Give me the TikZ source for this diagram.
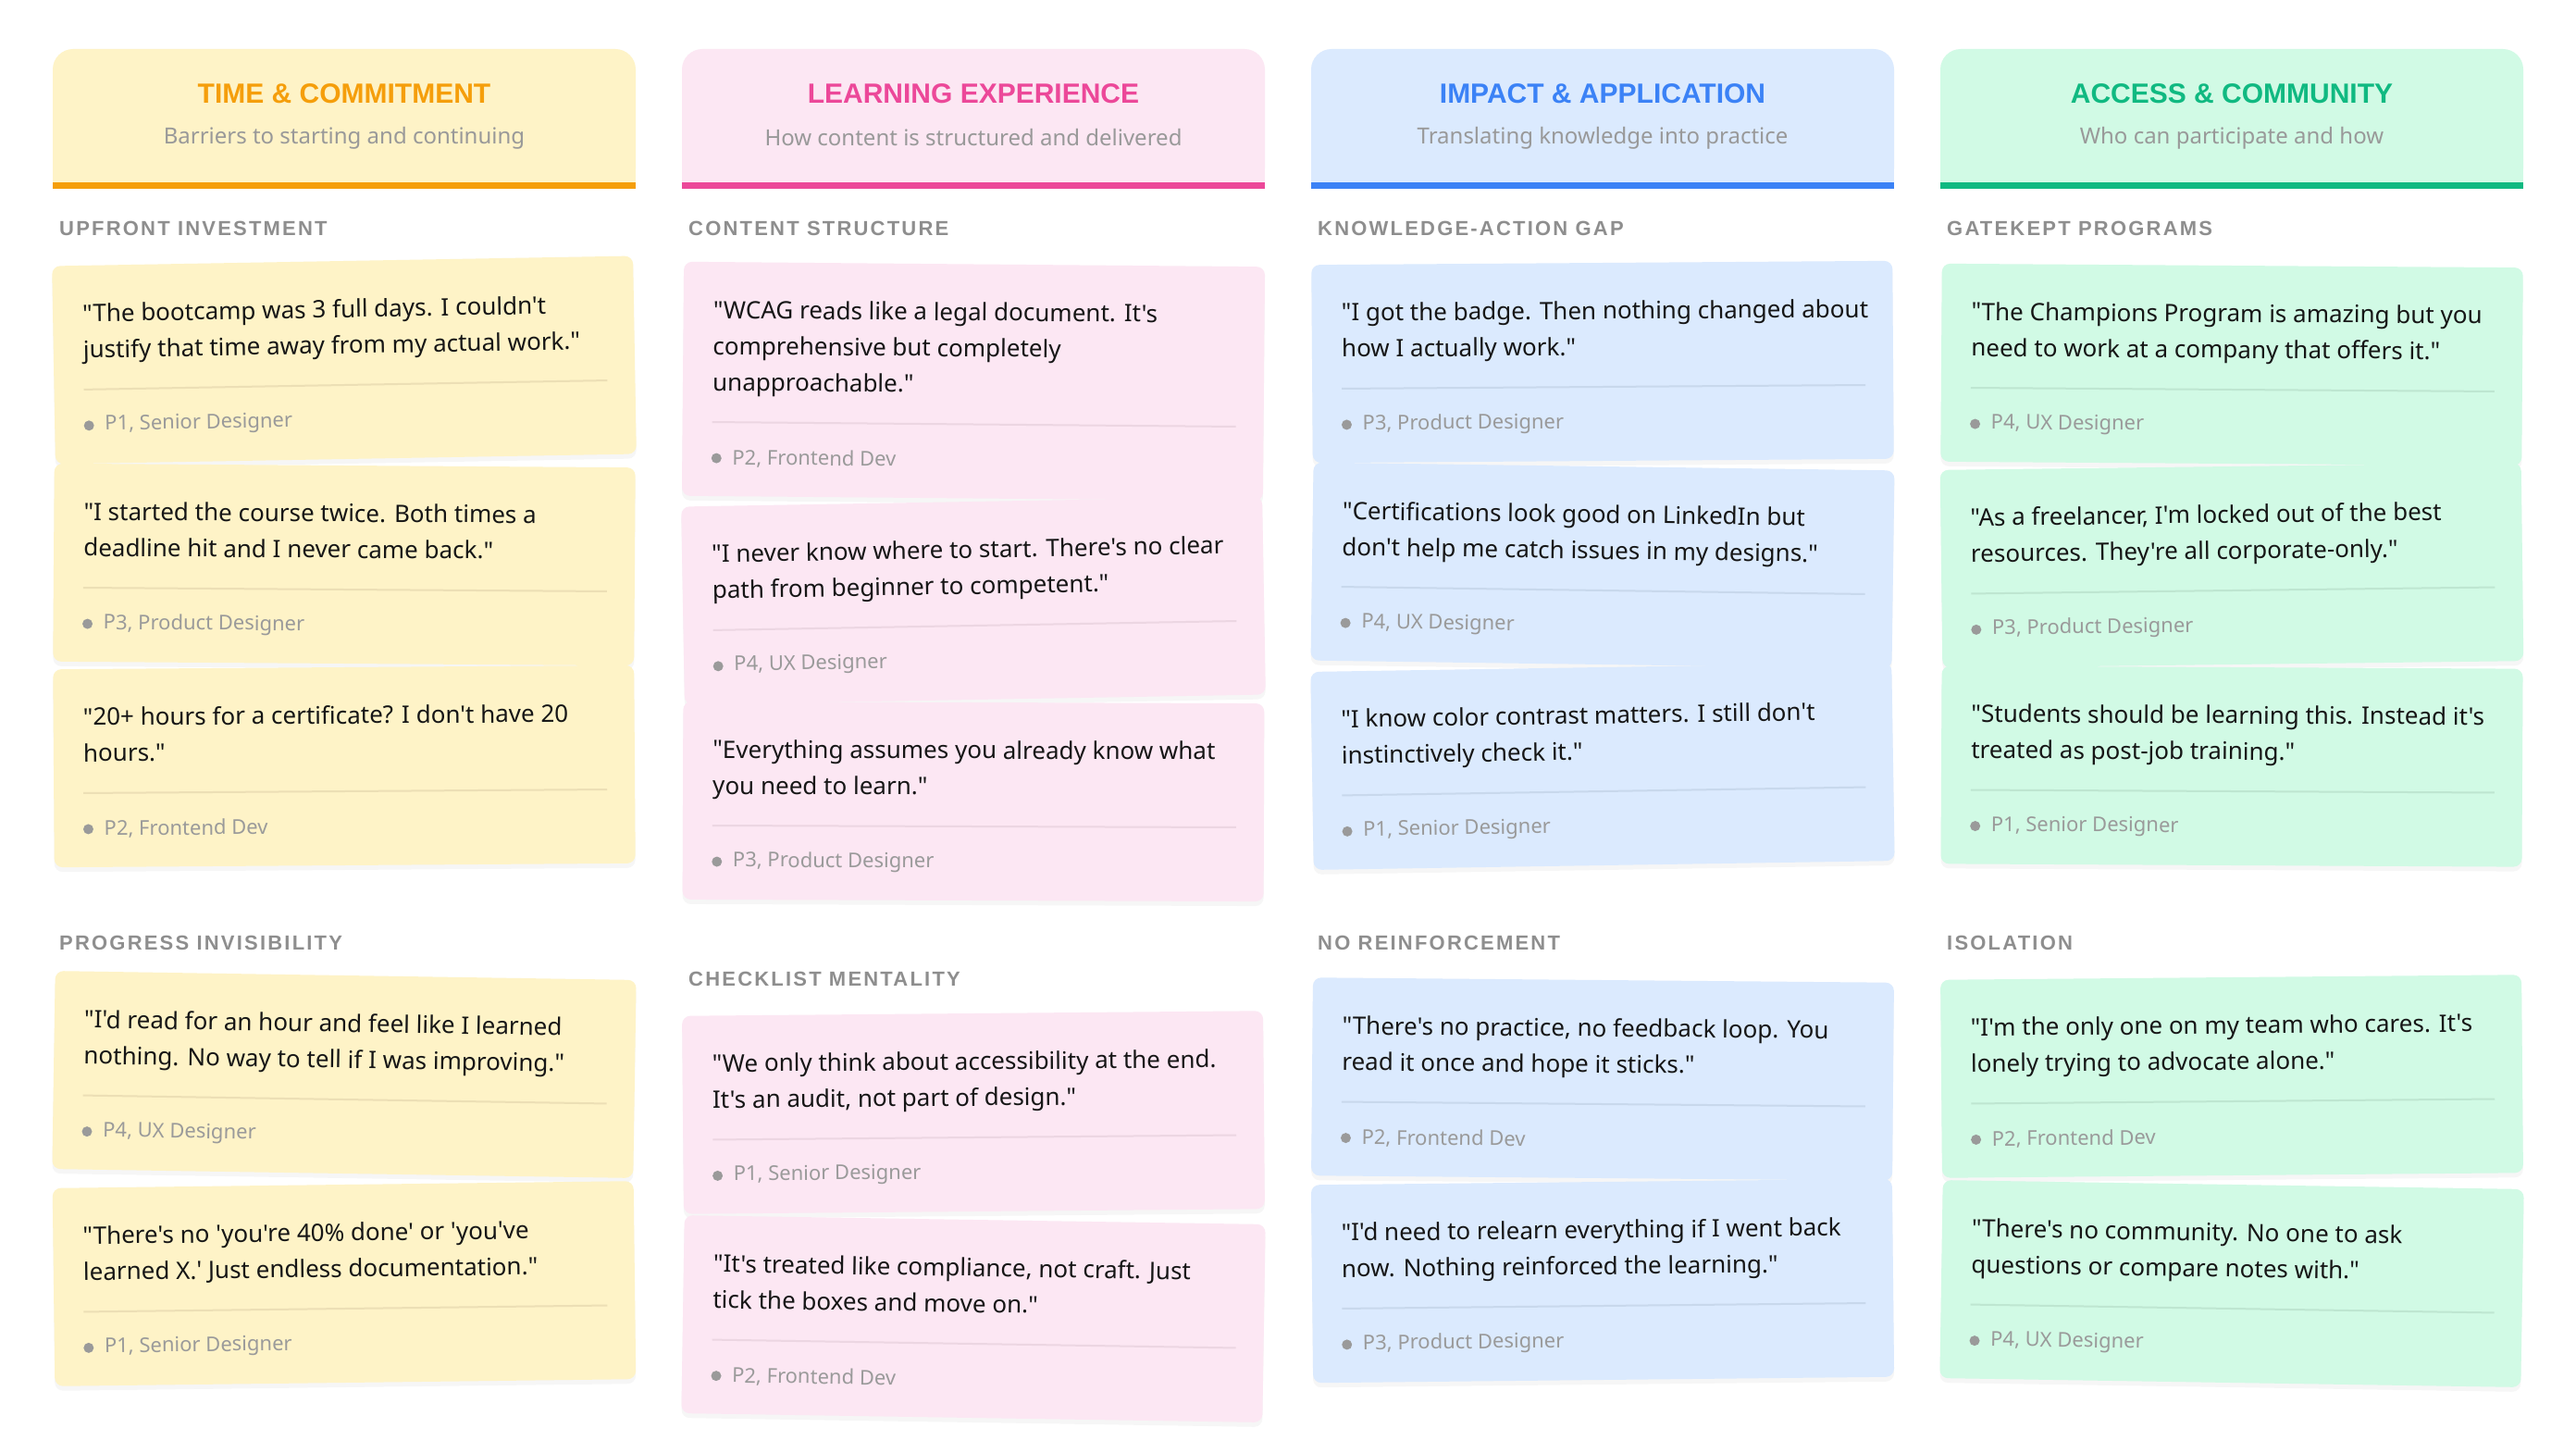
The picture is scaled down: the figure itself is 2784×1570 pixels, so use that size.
\documentclass[tikz,border=0pt]{standalone}
\usepackage{fontspec}
\setmainfont{Noto Sans}[Ligatures=TeXOff]
\newfontfamily\lblfont{Liberation Sans}[LetterSpace=10,Ligatures=TeXOff]
\newfontfamily\hdfont{Liberation Sans}[Ligatures=TeXOff]
\usetikzlibrary{shadows}
\definecolor{ylwbg}{HTML}{FEF3C7}\definecolor{ylwacc}{HTML}{F59E0B}\definecolor{ylwrule}{HTML}{ECDFB5}
\definecolor{pnkbg}{HTML}{FCE7F3}\definecolor{pnkacc}{HTML}{EC4899}\definecolor{pnkrule}{HTML}{ECD6E2}
\definecolor{blubg}{HTML}{DBEAFE}\definecolor{bluacc}{HTML}{3B82F6}\definecolor{blurule}{HTML}{C8D8EC}
\definecolor{grnbg}{HTML}{D1FAE5}\definecolor{grnacc}{HTML}{10B981}\definecolor{grnrule}{HTML}{BEE6D1}
\definecolor{quoteink}{HTML}{161616}
\definecolor{authorgray}{HTML}{9A9A9A}
\definecolor{dotgray}{HTML}{9A9A9A}
\definecolor{labelgray}{HTML}{8E8E8E}
\definecolor{subgray}{HTML}{999999}
\tikzset{
  quotetext/.style={font=\fontsize{26}{39}\selectfont, text=quoteink, align=left, inner sep=0pt},
  authortext/.style={font=\fontsize{22}{26}\selectfont, text=authorgray, inner sep=0pt},
  sectlabel/.style={font=\lblfont\bfseries\fontsize{22}{26}\selectfont, text=labelgray, inner sep=0pt, anchor=west},
  htitle/.style={font=\hdfont\bfseries\fontsize{30}{34}\selectfont, inner sep=0pt},
  hsub/.style={font=\fontsize{24}{28}\selectfont, text=subgray, inner sep=0pt},
  cardshadow/.style={drop shadow={opacity=0.07, shadow xshift=0pt, shadow yshift=-5pt}},
}
% #1 name, #2 cx, #3 cy, #4 angle, #5 colour prefix, #6 lines, #7 quote, #8 author
\newcommand\qcard[8]{%
  \begin{scope}[shift={(#2,#3)}, rotate=#4, transform shape]
    \pgfmathsetmacro\hh{(136+39*#6)/2}
    \pgfmathsetmacro\dy{-\hh+56+39*#6}
    \pgfmathsetmacro\ay{-\hh+95+39*#6}
    \path[fill=#5bg, rounded corners=9pt, cardshadow] (-314,-\hh) rectangle (314,\hh);
    \node[quotetext, anchor=north west] (#1q) at (-282,-\hh+41) {#7};
    \draw[#5rule, line width=2pt] (-282,\dy) -- (284,\dy);
    \fill[dotgray] (-277,\ay) circle (5.5pt);
    \node[authortext, anchor=west] (#1a) at (-260,\ay) {#8};
  \end{scope}}
% #1 name, #2 x0, #3 colour prefix, #4 title, #5 subtitle
\newcommand\colhead[5]{%
  \fill[#3bg, rounded corners=22pt] (#2,53) rectangle (#2+630,204);
  \fill[#3bg] (#2,150) rectangle (#2+630,204);
  \fill[#3acc] (#2,197) rectangle (#2+630,204);
  \node[htitle, text=#3acc] (#1t) at (#2+315,101) {#4};
  \node[hsub] (#1s) at (#2+315,149) {#5};}
\begin{document}
\begin{tikzpicture}[x=1pt,y=-1pt]
\fill[white] (0,0) rectangle (2784,1570);
\useasboundingbox (0,0) rectangle (2784,1570);

\colhead{h1}{57}{ylw}{TIME \& COMMITMENT}{Barriers to starting and continuing}
\colhead{h2}{737}{pnk}{LEARNING EXPERIENCE}{How content is structured and delivered}
\colhead{h3}{1417}{blu}{IMPACT \& APPLICATION}{Translating knowledge into practice}
\colhead{h4}{2097}{grn}{ACCESS \& COMMUNITY}{Who can participate and how}

\node[sectlabel] (s1a) at (64,247) {UPFRONT INVESTMENT};
\node[sectlabel] (s2a) at (744,247) {CONTENT STRUCTURE};
\node[sectlabel] (s3a) at (1424,247) {KNOWLEDGE-ACTION GAP};
\node[sectlabel] (s4a) at (2104,247) {GATEKEPT PROGRAMS};
\node[sectlabel] (s1b) at (64,1019) {PROGRESS INVISIBILITY};
\node[sectlabel] (s2b) at (744,1058) {CHECKLIST MENTALITY};
\node[sectlabel] (s3b) at (1424,1019) {NO REINFORCEMENT};
\node[sectlabel] (s4b) at (2104,1019) {ISOLATION};

% column 1
\qcard{c11}{372}{389}{1.0}{ylw}{2}{"The bootcamp was 3 full days. I couldn't\\justify that time away from my actual work."}{P1, Senior Designer}
\qcard{c12}{372}{610}{-0.4}{ylw}{2}{"I started the course twice. Both times a\\deadline hit and I never came back."}{P3, Product Designer}
\qcard{c13}{372}{828}{0.4}{ylw}{2}{"20+ hours for a certificate? I don't have 20\\hours."}{P2, Frontend Dev}
\qcard{c14}{372}{1161}{-0.9}{ylw}{2}{"I'd read for an hour and feel like I learned\\nothing. No way to tell if I was improving."}{P4, UX Designer}
\qcard{c15}{372}{1387}{0.7}{ylw}{2}{"There's no 'you're 40\% done' or 'you've\\learned X.' Just endless documentation."}{P1, Senior Designer}

% column 2
\qcard{c21}{1052}{412}{-0.5}{pnk}{3}{"WCAG reads like a legal document. It's\\comprehensive but completely\\unapproachable."}{P2, Frontend Dev}
\qcard{c22}{1052}{649}{1.0}{pnk}{2}{"I never know where to start. There's no clear\\path from beginner to competent."}{P4, UX Designer}
\qcard{c23}{1052}{866}{-0.2}{pnk}{2}{"Everything assumes you already know what\\you need to learn."}{P3, Product Designer}
\qcard{c24}{1052}{1202}{0.5}{pnk}{2}{"We only think about accessibility at the end.\\It's an audit, not part of design."}{P1, Senior Designer}
\qcard{c25}{1052}{1425}{-0.9}{pnk}{2}{"It's treated like compliance, not craft. Just\\tick the boxes and move on."}{P2, Frontend Dev}

% column 3
\qcard{c31}{1732}{391}{0.4}{blu}{2}{"I got the badge. Then nothing changed about\\how I actually work."}{P3, Product Designer}
\qcard{c32}{1732}{611}{-0.8}{blu}{2}{"Certifications look good on LinkedIn but\\don't help me catch issues in my designs."}{P4, UX Designer}
\qcard{c33}{1732}{828}{0.9}{blu}{2}{"I know color contrast matters. I still don't\\instinctively check it."}{P1, Senior Designer}
\qcard{c34}{1732}{1166}{-0.5}{blu}{2}{"There's no practice, no feedback loop. You\\read it once and hope it sticks."}{P2, Frontend Dev}
\qcard{c35}{1732}{1384}{0.6}{blu}{2}{"I'd need to relearn everything if I went back\\now. Nothing reinforced the learning."}{P3, Product Designer}

% column 4
\qcard{c41}{2412}{394}{-0.4}{grn}{2}{"The Champions Program is amazing but you\\need to work at a company that offers it."}{P4, UX Designer}
\qcard{c42}{2412}{611}{0.7}{grn}{2}{"As a freelancer, I'm locked out of the best\\resources. They're all corporate-only."}{P3, Product Designer}
\qcard{c43}{2412}{828}{-0.3}{grn}{2}{"Students should be learning this. Instead it's\\treated as post-job training."}{P1, Senior Designer}
\qcard{c44}{2412}{1163}{0.5}{grn}{2}{"I'm the only one on my team who cares. It's\\lonely trying to advocate alone."}{P2, Frontend Dev}
\qcard{c45}{2412}{1387}{-0.9}{grn}{2}{"There's no community. No one to ask\\questions or compare notes with."}{P4, UX Designer}
\end{tikzpicture}
\end{document}
